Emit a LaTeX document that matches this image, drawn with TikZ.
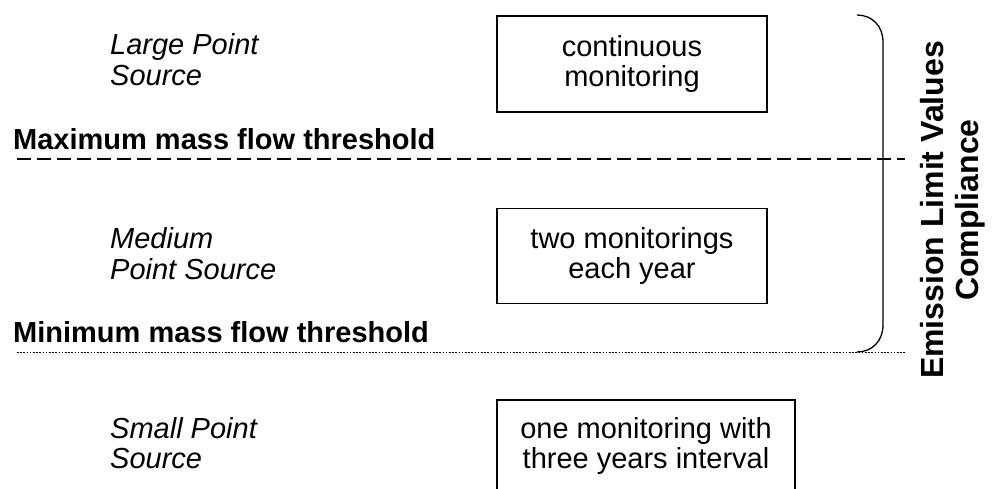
\documentclass[tikz,border=0pt]{standalone}
\usepackage{fontspec}
\setmainfont{Liberation Sans}
\begin{document}
\begin{tikzpicture}[x=1pt,y=-1pt,
  txt/.style={font=\fontsize{29}{30.5}\selectfont, inner sep=0pt},
  srclabel/.style={txt, font=\fontsize{29}{30.5}\selectfont\itshape, align=left, anchor=west},
  thr/.style={txt, font=\fontsize{29}{31.5}\selectfont\bfseries, anchor=base west},
  mbox/.style={draw, line width=1.4pt, txt, align=center, minimum width=270pt},
  lvl/.style={line width=1.4pt}]
\useasboundingbox (0,0) rectangle (994,489);
\clip (0,0) rectangle (994,489);
% source labels
\node[srclabel] (large) at (110,59.5) {Large Point\\Source};
\node[srclabel] (medium) at (110,253.5) {Medium\\Point Source};
\node[srclabel] (small) at (110,443) {Small Point\\Source};
% monitoring boxes
\node[mbox, minimum height=96pt] (b1) at (632,64) {continuous\\monitoring};
\node[mbox, minimum height=95pt] (b2) at (632,256) {two monitorings\\each year};
\node[mbox, minimum width=298pt, minimum height=200pt] (b3) at (646,500) {};
\node[txt, align=center] (b3t) at (646,446) {one monitoring with\\three years interval};
% thresholds
\node[thr] (maxl) at (13,150) {Maximum mass flow threshold};
\node[thr] (minl) at (13,342) {Minimum mass flow threshold};
\coordinate (d1) at (17,159);
\coordinate (d2) at (905,159);
\coordinate (p1) at (17,352);
\coordinate (p2) at (905,352);
\draw[lvl, dash pattern=on 14pt off 6pt] (d1) -- (d2);
\draw[line width=1pt, dash pattern=on 1.6pt off 1.6pt] (p1) -- (p2);
% bracket
\coordinate (bt) at (857,15);
\coordinate (bb) at (857,352);
\draw[line width=1.3pt] (bt) .. controls (872,15) and (883,26) .. (883,42) -- (883,325) .. controls (883,341) and (872,352) .. (bb);
% rotated label
\node[txt, font=\fontsize{32}{35}\selectfont\bfseries, align=center, rotate=90] (elv) at (953,210) {Emission Limit Values\\Compliance};
\end{tikzpicture}
\end{document}
